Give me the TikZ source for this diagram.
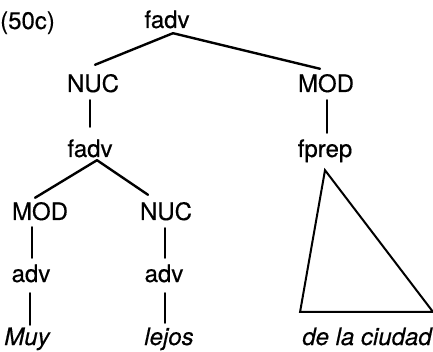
\documentclass[tikz,border=0pt]{standalone}
\usepackage{fontspec}
\setmainfont{TeX Gyre Heros}[FakeBold=0.4]
\begin{document}
\begin{tikzpicture}[x=1pt,y=-1pt,
  lbl/.style={inner sep=0pt,anchor=base,text height=17pt,text depth=5pt,font=\fontsize{24}{28}\selectfont},
  edge/.style={line width=2.4pt,line cap=round},
  tri/.style={line width=2pt,line join=miter}]
\useasboundingbox (0,0) rectangle (433,352);
\node[lbl,anchor=base west] (ex) at (0,29) {(50c)};
\node[lbl] (top) at (167,28) {fadv};
\node[lbl] (nucA) at (93,92) {NUC};
\node[lbl] (modA) at (326,92) {MOD};
\node[lbl] (fadvB) at (90,157) {fadv};
\node[lbl] (fprep) at (325,157) {fprep};
\node[lbl] (modB) at (40,220) {MOD};
\node[lbl] (nucB) at (166,220) {NUC};
\node[lbl] (advA) at (31,282) {adv};
\node[lbl] (advB) at (164,282) {adv};
\node[lbl,font=\fontsize{24}{28}\selectfont\itshape] (muy) at (27,345) {Muy};
\node[lbl,font=\fontsize{24}{28}\selectfont\itshape] (lejos) at (169,345) {lejos};
\node[lbl,font=\fontsize{24}{28}\selectfont\itshape] (ciudad) at (367,345) {de la ciudad};
% edges
\draw[edge] ([xshift=6pt]top.south) -- ([xshift=2pt,yshift=10pt]nucA.north);
\draw[edge] ([xshift=6pt]top.south) -- ([xshift=-6pt,yshift=6pt]modA.north);
\draw[edge] ([xshift=-3pt,yshift=-3pt]nucA.south) -- ([yshift=13pt]fadvB.north);
\draw[edge] ([xshift=1pt,yshift=-3pt]modA.south) -- ([xshift=2pt,yshift=7pt]fprep.north);
\draw[edge] ([xshift=7pt,yshift=2pt]fadvB.south) -- ([xshift=-5pt,yshift=5pt]modB.north);
\draw[edge] ([xshift=7pt,yshift=2pt]fadvB.south) -- ([xshift=-18pt,yshift=8pt]nucB.north);
\draw[edge] ([xshift=-8pt,yshift=-2pt]modB.south) -- ([xshift=1pt,yshift=7pt]advA.north);
\draw[edge] ([xshift=-1pt,yshift=-3pt]nucB.south) -- ([xshift=1pt,yshift=7pt]advB.north);
\draw[edge] ([xshift=-1pt,yshift=-6pt]advA.south) -- ([xshift=3pt,yshift=3pt]muy.north);
\draw[edge] ([xshift=1pt,yshift=-6pt]advB.south) -- ([xshift=-4pt,yshift=5pt]lejos.north);
% triangle
\draw[tri] ([yshift=-8pt]fprep.south) -- ([xshift=-2pt,yshift=16pt]ciudad.north west) -- ([xshift=1pt,yshift=16pt]ciudad.north east) -- cycle;
\end{tikzpicture}
\end{document}
